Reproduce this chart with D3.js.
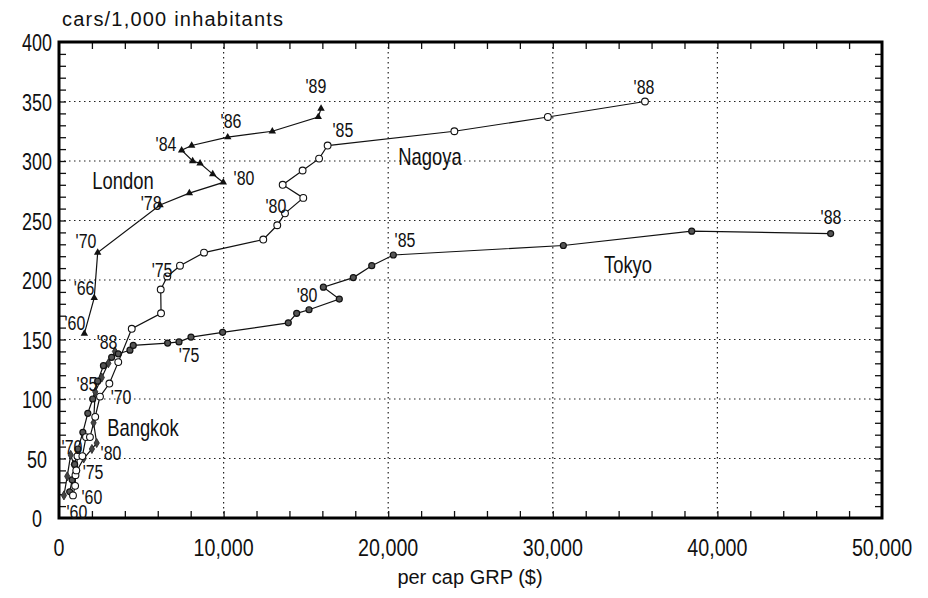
<!DOCTYPE html>
<html>
<head>
<meta charset="utf-8">
<script src="https://cdn.jsdelivr.net/npm/d3@7"></script>
<style>
body { margin: 0; background: #fff; }
text { font-family: "Liberation Sans", Arial, sans-serif; fill: #111; }
</style>
</head>
<body>
<svg width="928" height="598"></svg>
<script>
// per cap GRP ($), cars per 1,000 inhabitants
var londonGrp = [1540, 2140, 2350, 6140, 7920, 9980, 9340, 8570, 8120, 7450, 8060, 10250, 12960, 15750, 15920];
var londonCars = [155, 185, 223, 263, 273, 282, 289, 298, 300, 309, 313, 320, 325, 337, 344];

var nagoyaGrp = [850, 980, 1000, 1050, 1120, 1420, 1640, 1880, 2200, 2490, 3060, 3600, 4420, 6200, 6180, 6580, 7350, 8810, 12410, 13260, 13730, 14840, 13590, 14800, 15800, 16320, 24020, 29700, 35600];
var nagoyaCars = [19, 27, 36, 40, 52, 52, 68, 68, 85, 102, 113, 131, 159, 172, 192, 203, 212, 223, 234, 246, 256, 269, 280, 292, 302, 313, 325, 337, 350];

var tokyoGrp = [650, 800, 950, 1150, 1450, 1750, 2050, 2350, 2700, 3200, 3600, 4310, 4510, 6600, 7290, 8020, 9940, 13930, 14440, 15190, 17030, 16060, 17880, 19000, 20310, 30640, 38440, 46880];
var tokyoCars = [22, 32, 45, 58, 72, 88, 100, 115, 128, 135, 138, 141, 145, 147, 148, 152, 156, 164, 172, 175, 184, 194, 202, 212, 221, 229, 241, 239];

var bangkokGrp = [300, 500, 710, 900, 1100, 1500, 2000, 2290, 2100, 2200, 2600, 3000, 3400];
var bangkokCars = [19, 35, 53, 45, 40, 50, 58, 63, 80, 106, 118, 130, 140];

// year annotations, placed in data units
var yearText = ["'60", "'66", "'70", "'78", "'80", "'84", "'86", "'89",
    "'75", "'80", "'85", "'88", "'70", "'60",
    "'75", "'80", "'85", "'88", "'60",
    "'88", "'85", "'70", "'80", "'75"];
var yearGrp = [970, 1520, 1640, 5600, 11240, 6500, 10450, 15610,
    6260, 13180, 17250, 35540, 3770, 2000,
    7900, 15070, 21020, 46900, 1090,
    2920, 1700, 790, 3160, 2070];
var yearCars = [164, 193, 233, 265, 286, 314, 334, 363,
    208, 262, 326, 362, 102, 18,
    137, 187, 234, 253, 5,
    148, 113, 60, 55, 39];

var cityNames = ['London', 'Nagoya', 'Tokyo', 'Bangkok'];
var cityGrp = [3890, 22540, 34570, 5100];
var cityCars = [283, 303, 213, 76];

var xTicks = [0, 10000, 20000, 30000, 40000, 50000];
var yTicks = [0, 50, 100, 150, 200, 250, 300, 350, 400];

var svg = d3.select('svg');
var svgWidth = +svg.attr('width');
var svgHeight = +svg.attr('height');

var padding = { t: 42, r: 46, b: 80, l: 59 };
var chartWidth = svgWidth - padding.l - padding.r;
var chartHeight = svgHeight - padding.t - padding.b;

var chartG = svg.append('g')
    .attr('transform', 'translate(' + [padding.l, padding.t] + ')');

var xScale = d3.scaleLinear().domain([0, 50000]).range([0, chartWidth]);
var yScale = d3.scaleLinear().domain([0, 400]).range([chartHeight, 0]);

// condensed-looking text: squeeze horizontally around the anchor point
function narrowText(parent, data, opts) {
    parent.append('g').selectAll('g')
        .data(data)
        .enter().append('g')
        .attr('transform', (d, i) => 'translate(' + [opts.x(d, i), opts.y(d, i)] + ')')
        .append('text')
        .attr('transform', 'scale(' + opts.sx + ',1)')
        .attr('text-anchor', 'middle')
        .style('font-size', opts.size + 'px')
        .text(opts.text);
}

// dotted grid
chartG.append('g').selectAll('line')
    .data(xTicks.slice(1, -1))
    .enter().append('line')
    .attr('x1', d => xScale(d)).attr('x2', d => xScale(d))
    .attr('y1', 0).attr('y2', chartHeight)
    .attr('stroke', '#222').attr('stroke-width', 1.2)
    .attr('stroke-dasharray', '1.5,3.5');

chartG.append('g').selectAll('line')
    .data(yTicks.slice(1, -1))
    .enter().append('line')
    .attr('y1', d => yScale(d)).attr('y2', d => yScale(d))
    .attr('x1', 0).attr('x2', chartWidth)
    .attr('stroke', '#222').attr('stroke-width', 1.2)
    .attr('stroke-dasharray', '1.5,3.5');

// inward ticks on all four sides
var xMinor = d3.range(2000, 50000, 2000);
var yMinor = d3.range(10, 400, 10);
var tickFmt = () => '';

chartG.append('g')
    .attr('transform', `translate(0, ${chartHeight})`)
    .call(d3.axisTop(xScale).tickValues(xMinor).tickSize(7).tickFormat(tickFmt));
chartG.append('g')
    .call(d3.axisBottom(xScale).tickValues(xMinor).tickSize(7).tickFormat(tickFmt));
chartG.append('g')
    .call(d3.axisRight(yScale).tickValues(yMinor).tickSize(7).tickFormat(tickFmt));
chartG.append('g')
    .attr('transform', `translate(${chartWidth}, 0)`)
    .call(d3.axisLeft(yScale).tickValues(yMinor).tickSize(7).tickFormat(tickFmt));
chartG.selectAll('.domain').remove();
chartG.selectAll('.tick line').attr('stroke', '#111').attr('stroke-width', 1.3);

// frame
chartG.append('rect')
    .attr('width', chartWidth).attr('height', chartHeight)
    .attr('fill', 'none').attr('stroke', '#000').attr('stroke-width', 3);

// tick labels
narrowText(svg, xTicks, {
    x: d => padding.l + xScale(d),
    y: () => padding.t + chartHeight + 38,
    sx: 0.82, size: 24,
    text: d => d3.format(',')(d)
});

narrowText(svg, yTicks, {
    x: () => 37,
    y: d => padding.t + yScale(d) + 9,
    sx: 0.78, size: 23,
    text: d => d
});

svg.append('text')
    .attr('x', 62).attr('y', 26)
    .attr('textLength', 221)
    .style('font-size', '20px')
    .text('cars/1,000  inhabitants');

svg.append('text')
    .attr('text-anchor', 'middle')
    .attr('x', 470).attr('y', 584)
    .style('font-size', '20px')
    .text('per cap GRP ($)');

var line = d3.line()
    .x(d => xScale(d[0]))
    .y(d => yScale(d[1]));

function series(grp, cars) {
    return grp.map((g, i) => [g, cars[i]]);
}

var london = series(londonGrp, londonCars);
var nagoya = series(nagoyaGrp, nagoyaCars);
var tokyo = series(tokyoGrp, tokyoCars);
var bangkok = series(bangkokGrp, bangkokCars);

[bangkok, tokyo, nagoya, london].forEach(function (s) {
    chartG.append('path')
        .datum(s)
        .attr('d', line)
        .attr('fill', 'none')
        .attr('stroke', '#111')
        .attr('stroke-width', 1.2);
});

chartG.append('g').selectAll('path')
    .data(bangkok)
    .enter().append('path')
    .attr('d', d3.symbol(d3.symbolDiamond, 24))
    .attr('transform', d => `translate(${xScale(d[0])},${yScale(d[1])})`)
    .attr('fill', '#444').attr('stroke', '#222').attr('stroke-width', 0.8);

chartG.append('g').selectAll('circle')
    .data(tokyo)
    .enter().append('circle')
    .attr('cx', d => xScale(d[0])).attr('cy', d => yScale(d[1]))
    .attr('r', 3)
    .attr('fill', '#555').attr('stroke', '#111').attr('stroke-width', 1.2);

chartG.append('g').selectAll('circle')
    .data(nagoya)
    .enter().append('circle')
    .attr('cx', d => xScale(d[0])).attr('cy', d => yScale(d[1]))
    .attr('r', 3.4)
    .attr('fill', '#fff').attr('stroke', '#111').attr('stroke-width', 1.1);

chartG.append('g').selectAll('path')
    .data(london)
    .enter().append('path')
    .attr('d', d3.symbol(d3.symbolTriangle, 24))
    .attr('transform', d => `translate(${xScale(d[0])},${yScale(d[1])})`)
    .attr('fill', '#111');

// year and city annotations
narrowText(chartG, yearText, {
    x: (d, i) => xScale(yearGrp[i]),
    y: (d, i) => yScale(yearCars[i]) + 7,
    sx: 0.76, size: 21,
    text: d => d
});

narrowText(chartG, cityNames, {
    x: (d, i) => xScale(cityGrp[i]),
    y: (d, i) => yScale(cityCars[i]) + 8,
    sx: 0.8, size: 23,
    text: d => d
});
</script>
</body>
</html>
